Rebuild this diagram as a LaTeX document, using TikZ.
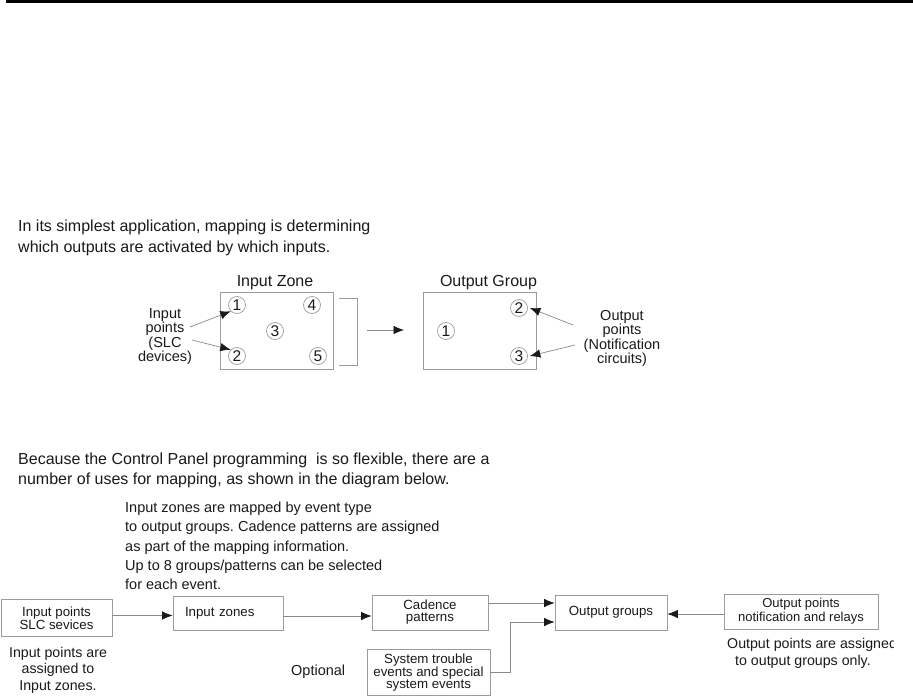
\documentclass[tikz,border=0pt]{standalone}
\usepackage{fontspec}
\setmainfont{Liberation Sans}
\usetikzlibrary{arrows.meta}
\definecolor{boxgray}{HTML}{9C9C9C}
\definecolor{linegray}{HTML}{8A8A8A}
\definecolor{ink}{HTML}{1A1A1A}
\frenchspacing
\begin{document}
\begin{tikzpicture}[x=1pt,y=-1pt,
  txt/.style={inner sep=0pt, text=ink},
  box/.style={draw=boxgray, line width=0.7pt, inner sep=0pt, text=ink, align=center, font=\fontsize{13.3}{12}\selectfont},
  circ/.style={circle, draw=boxgray, line width=0.7pt, minimum size=17pt, inner sep=0pt, text=ink, font=\fontsize{15.5}{15}\selectfont},
  arr/.style={draw=linegray, line width=0.7pt, -{Latex[length=10.5pt,width=8.5pt,color=ink]}}]
\useasboundingbox (0,0) rectangle (913,696);
\fill[white] (0,0) rectangle (913,696);
\draw[line width=2.6pt, black] (6,1.3) -- (913,1.3);

% paragraph 1
\node[txt, align=left, anchor=north west, font=\fontsize{16}{21}\selectfont] (p1) at (18,220)
  {In its simplest application, mapping is determining\\which outputs are activated by which inputs.};

% upper diagram: input zone
\node[txt, anchor=north, font=\fontsize{16}{19}\selectfont] (izl) at (275,275) {Input Zone};
\node[draw=boxgray, line width=0.7pt, minimum width=113pt, minimum height=77pt, inner sep=0pt] (iz) at (276.5,330.5) {};
\node[circ] (c1) at (237,305) {1};
\node[circ] (c4) at (312,305) {4};
\node[circ] (c3) at (275,331) {3};
\node[circ] (c2) at (237,356) {2};
\node[circ] (c5) at (318,356) {5};
\draw[boxgray, line width=0.7pt] (339,298) -| (357,365) -- (339,365);
\coordinate (ma) at (367,330);
\coordinate (mb) at (404,330);
\draw[arr] (ma) -- (mb);

\node[txt, align=center, anchor=north, font=\fontsize{14.5}{12.4}\selectfont] (ipl) at (165,308)
  {Input\\points\\(SLC\\devices)};
\coordinate (ia) at (190,327);
\coordinate (ib) at (192,340);
\draw[arr] (ia) -- (c1.south west);
\draw[arr] (ib) -- (c2.north west);

% upper diagram: output group
\node[txt, anchor=north, font=\fontsize{16}{19}\selectfont] (ogl) at (488.5,275) {Output Group};
\node[draw=boxgray, line width=0.7pt, minimum width=113pt, minimum height=77pt, inner sep=0pt] (og) at (479.5,330.5) {};
\node[circ] (oc1) at (446,331) {1};
\node[circ] (oc2) at (519,308) {2};
\node[circ] (oc3) at (519,356) {3};
\node[txt, align=center, anchor=north, font=\fontsize{14.5}{12.4}\selectfont] (opl) at (622,310)
  {Output\\points\\(Notification\\circuits)};
\coordinate (oa) at (573,325);
\coordinate (ob) at (575,345);
\draw[arr] (oa) -- ([xshift=2pt]oc2.east);
\draw[arr] (ob) -- ([xshift=2pt]oc3.east);

% paragraph 2
\node[txt, align=left, anchor=north west, font=\fontsize{16}{20}\selectfont] (p2) at (18,453)
  {Because the Control Panel programming~ is so flexible, there are a\\number of uses for mapping, as shown in the diagram below.};

% paragraph 3
\node[txt, align=left, anchor=north west, font=\fontsize{14.5}{19.2}\selectfont] (p3) at (125,502)
  {Input zones are mapped by event type\\to output groups. Cadence patterns are assigned\\as part of the mapping information.\\Up to 8 groups/patterns can be selected\\for each event.};

% bottom diagram
\node[box, minimum width=111pt, minimum height=37pt] (b1) at (56.5,618) {Input points\\SLC sevices};
\node[box, minimum width=110pt, minimum height=34pt, text width=86pt, align=left] (b2) at (228,613) {Input zones};
\node[box, minimum width=116pt, minimum height=35pt] (b3) at (430,612.5) {Cadence\\patterns};
\node[box, minimum width=112pt, minimum height=35pt] (b4) at (611,612.5) {Output groups};
\node[box, minimum width=123pt, minimum height=46pt, font=\fontsize{13.3}{11.5}\selectfont] (b5) at (428.5,672.5) {System trouble\\events and special\\system events};
\node[box, minimum width=154pt, minimum height=35pt, font=\fontsize{13}{14}\selectfont] (b6) at (801,611.5) {Output points\\notification and relays};

\node[txt, align=center, anchor=north, font=\fontsize{14.2}{16.5}\selectfont] (bl1) at (58,647)
  {Input points are\\assigned to\\Input zones.};
\node[txt, anchor=north west, font=\fontsize{14.5}{17}\selectfont] (opt) at (291,665) {Optional};
\begin{scope}
\clip (0,0) rectangle (893,696);
\node[txt, align=left, anchor=north west, font=\fontsize{14.2}{17}\selectfont] (bl6) at (727,638)
  {Output points are assigned\\\hspace*{8pt}to output groups only.};
\end{scope}

\path ([yshift=2.5pt]b1.east) coordinate (s1);
\draw[arr] (s1) -- (s1 -| b2.west);
\path ([yshift=-3pt]b2.east) coordinate (s2);
\draw[arr] (s2) -- (s2 -| b3.west);
\path ([yshift=9.5pt]b3.east) coordinate (s3);
\draw[arr] (s3) -- (s3 -| b4.west);
\draw[arr] (b5.east) -- ++(20,0) |- ([yshift=-9.5pt]b4.west);
\path ([yshift=-2.5pt]b6.west) coordinate (s6);
\draw[arr] (s6) -- (s6 -| b4.east);
\end{tikzpicture}
\end{document}
